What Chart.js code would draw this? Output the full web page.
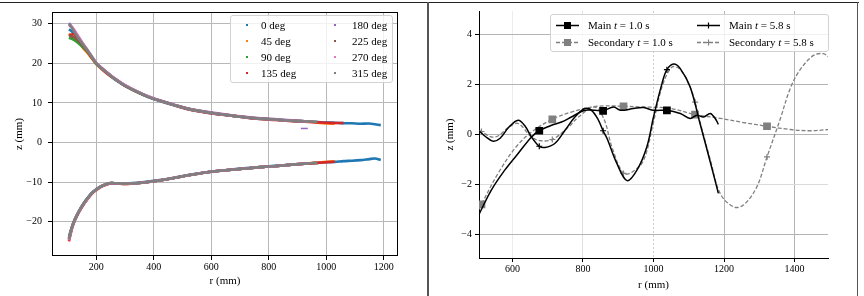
<!DOCTYPE html>
<html>
<head>
<meta charset="utf-8">
<script src="https://cdn.jsdelivr.net/npm/chart.js@4.4.0/dist/chart.umd.min.js"></script>
<style>
  body { margin: 0; background: #fff; width: 864px; height: 296px; position: relative; overflow: hidden;
         font-family: "Liberation Serif", "DejaVu Serif", serif; }
  canvas { position: absolute; top: 0; }
  #leftChart { left: 0; }
  #rightChart { left: 431px; }
  .rule { position: absolute; background: #222; }
  .leg { position: absolute; border: 1px solid #d2d2d2; border-radius: 3px; background: rgba(255,255,255,0.8);
         font-size: 11px; color: #000; }
  .leg span { position: absolute; white-space: nowrap; line-height: 14px; }
  .dot { width: 2px; height: 2px; }
</style>
</head>
<body>
<canvas id="leftChart" width="426" height="296"></canvas>
<canvas id="rightChart" width="426" height="296"></canvas>
<div class="rule" style="left:0;top:2px;width:859px;height:1px"></div>
<div class="rule" style="left:427px;top:2px;width:2px;height:294px;background:#555"></div>
<div class="rule" style="left:857px;top:2px;width:1px;height:294px;background:#555"></div>
<div id="legL" class="leg" style="left:230px;top:15px;width:161px;height:66px"></div>
<div id="legR" class="leg" style="left:550px;top:14px;width:277px;height:36px"></div>

<script>
// ---------- left panel: profile z(r) for eight azimuths ----------
const angleLabels = ['0 deg', '45 deg', '90 deg', '135 deg', '180 deg', '225 deg', '270 deg', '315 deg'];
const angleColors = ['#1f77b4', '#ff7f0e', '#2ca02c', '#d62728', '#9467bd', '#8c564b', '#e377c2', '#7f7f7f'];

const rGrid = [105, 115, 125, 140, 155, 170, 185, 200, 220, 245, 270, 300, 340, 380, 420, 470, 520,
               580, 640, 700, 760, 820, 880, 940, 970, 1000, 1030, 1060, 1090, 1120, 1150, 1170, 1190];

// upper branch, one row per angle (null = no data there)
const upperZ = [
  [28.6, 28.1, 27.4, 26.0, 24.6, 23.1, 21.5, 19.9, 18.6, 17.1, 15.7, 14.3, 12.8, 11.5, 10.5, 9.4, 8.4, 7.6, 7.0, 6.5, 6.0, 5.8, 5.5, 5.3, 5.2, 5.05, 5.0, 4.9, 4.85, 4.75, 4.8, 4.6, 4.4],
  [27.5, 27.0, 26.5, 25.5, 23.8, 22.6, 21.2, 19.8, 18.6, 17.1, 15.8, 14.4, 12.9, 11.6, 10.6, 9.5, 8.5, 7.7, 7.1, 6.6, 6.1, 5.8, 5.5, 5.3, 5.0, 4.8, 4.75, null, null, null, null, null, null],
  [26.5, 26.2, 25.8, 25.0, 24.0, 22.9, 21.4, 19.9, 18.7, 17.2, 15.8, 14.4, 12.9, 11.6, 10.6, 9.5, 8.5, 7.7, 7.1, 6.5, 6.1, 5.8, 5.5, 5.3, null, null, null, null, null, null, null, null, null],
  [27.0, 27.3, 27.4, 26.0, 24.5, 23.0, 21.5, 20.1, 18.5, 17.0, 15.9, 14.3, 12.9, 11.6, 10.6, 9.5, 8.4, 7.6, 7.0, 6.5, 6.0, 5.7, 5.4, 5.2, 5.1, 5.0, 4.95, 4.9, null, null, null, null, null],
  [30.2, 29.3, 28.0, 26.4, 24.8, 23.3, 21.7, 20.1, 18.8, 17.3, 15.9, 14.5, 13.0, 11.7, 10.7, 9.6, 8.6, 7.8, 7.2, 6.6, 6.2, 5.9, 5.6, 5.3, null, null, null, null, null, null, null, null, null],
  [27.2, 26.8, 26.5, 25.6, 24.4, 23.0, 21.5, 20.0, 18.7, 17.2, 15.8, 14.4, 12.9, 11.6, 10.6, 9.5, 8.5, 7.7, 7.1, 6.5, 6.1, 5.8, 5.5, 5.3, null, null, null, null, null, null, null, null, null],
  [29.6, 29.2, 28.3, 26.6, 24.9, 23.3, 21.7, 20.1, 18.8, 17.3, 15.9, 14.5, 13.0, 11.7, 10.6, 9.5, 8.5, 7.7, 7.1, 6.5, 6.1, 5.8, 5.5, 5.3, null, null, null, null, null, null, null, null, null],
  [29.9, 29.0, 27.8, 26.2, 24.7, 23.2, 21.6, 20.0, 18.7, 17.2, 15.8, 14.4, 12.9, 11.6, 10.6, 9.5, 8.5, 7.7, 7.1, 6.5, 6.1, 5.8, 5.5, 5.3, 5.25, null, null, null, null, null, null, null, null]
];

// lower branch
const lowerZ = [
  [-23.8, -21.4, -19.5, -17.3, -15.5, -14.0, -12.7, -11.8, -10.9, -10.3, -10.3, -10.4, -10.2, -9.9, -9.5, -8.9, -8.2, -7.6, -7.1, -6.6, -6.3, -5.9, -5.6, -5.3, -5.15, -5.0, -4.9, -4.7, -4.6, -4.45, -4.2, -4.05, -4.45],
  [-24.6, -21.8, -19.7, -17.5, -15.7, -14.2, -12.9, -12.0, -11.0, -10.4, -10.3, -10.5, -10.3, -10.0, -9.6, -9.0, -8.3, -7.6, -7.1, -6.7, -6.3, -6.0, -5.6, -5.3, -5.1, -4.9, -4.75, null, null, null, null, null, null],
  [-24.2, -21.5, -19.5, -17.4, -15.6, -14.1, -12.8, -11.9, -11.0, -10.3, -10.3, -10.4, -10.3, -10.0, -9.6, -9.0, -8.3, -7.6, -7.1, -6.7, -6.3, -6.0, -5.6, -5.3, null, null, null, null, null, null, null, null, null],
  [-25.0, -21.9, -19.8, -17.6, -15.8, -14.3, -12.9, -12.0, -11.1, -10.4, -10.4, -10.5, -10.3, -10.0, -9.6, -9.0, -8.3, -7.6, -7.1, -6.7, -6.3, -6.0, -5.6, -5.3, -5.15, -5.0, -4.85, null, null, null, null, null, null],
  [-24.4, -21.6, -19.6, -17.4, -15.6, -14.1, -12.8, -11.9, -11.0, -10.3, -10.3, -10.4, -10.3, -10.0, -9.6, -9.0, -8.3, -7.6, -7.1, -6.7, -6.3, -6.0, -5.6, -5.3, null, null, null, null, null, null, null, null, null],
  [-24.3, -21.5, -19.6, -17.4, -15.6, -14.1, -12.8, -11.9, -11.0, -10.3, -10.3, -10.4, -10.3, -10.0, -9.6, -9.0, -8.3, -7.6, -7.1, -6.7, -6.3, -6.0, -5.6, -5.3, null, null, null, null, null, null, null, null, null],
  [-24.7, -21.7, -19.6, -17.5, -15.7, -14.2, -12.8, -11.9, -11.0, -10.3, -10.3, -10.4, -10.3, -10.0, -9.6, -9.0, -8.3, -7.6, -7.1, -6.7, -6.3, -6.0, -5.6, -5.3, null, null, null, null, null, null, null, null, null],
  [-24.5, -21.6, -19.6, -17.4, -15.6, -14.1, -12.8, -11.9, -11.0, -10.3, -10.3, -10.4, -10.3, -10.0, -9.6, -9.0, -8.3, -7.6, -7.1, -6.7, -6.3, -6.0, -5.6, -5.3, -5.15, null, null, null, null, null, null, null, null]
];

// short stray piece of the 180 deg trace
const strayR = [912, 936];
const strayZ = [3.55, 3.55];

const xTicksLeft = [200, 400, 600, 800, 1000, 1200];
const yTicksLeft = [-20, -10, 0, 10, 20, 30];

// ---------- right panel: main vs secondary at two times ----------
const seriesNames = ['Main', 'Main', 'Secondary', 'Secondary'];
const seriesTimes = ['1.0', '5.8', '1.0', '5.8'];

const mainR10 = [505, 540, 578, 616, 654, 676, 711, 739, 767, 805, 834, 857, 887, 906, 943, 972, 1000, 1038, 1076, 1104, 1123, 1142, 1161, 1175, 1184];
const mainZ10 = [-3.2, -2.23, -1.43, -0.76, -0.1, 0.15, 0.37, 0.5, 0.7, 0.97, 0.97, 0.95, 1.1, 0.97, 1.04, 1.08, 0.97, 0.97, 0.84, 0.64, 0.77, 0.7, 0.84, 0.64, 0.41];

const mainR58 = [505, 525, 545, 565, 590, 616, 635, 654, 676, 692, 720, 749, 777, 805, 824, 843, 857, 868, 896, 925, 953, 981, 1000, 1024, 1038, 1057, 1076, 1104, 1132, 1161, 1184];
const mainZ58 = [0.15, -0.1, -0.27, -0.15, 0.3, 0.57, 0.35, -0.1, -0.47, -0.52, -0.36, 0.17, 0.7, 1.04, 0.97, 0.6, 0.15, -0.15, -1.16, -1.85, -1.43, -0.5, 0.7, 2.04, 2.6, 2.83, 2.64, 1.9, 0.44, -1.1, -2.36];

const secR10 = [505, 512, 559, 610, 654, 713, 767, 824, 862, 915, 981, 1047, 1118, 1189, 1255, 1322, 1388, 1445, 1497];
const secZ10 = [-3.0, -2.8, -1.56, -0.5, 0.1, 0.61, 0.9, 1.1, 1.15, 1.13, 1.1, 1.05, 0.8, 0.65, 0.48, 0.33, 0.2, 0.15, 0.2];

const secR58 = [505, 512, 540, 560, 590, 616, 654, 680, 713, 759, 787, 834, 860, 882, 915, 940, 972, 1000, 1024, 1052, 1076, 1104, 1118, 1132, 1161, 1189, 1227, 1255, 1293, 1322, 1359, 1388, 1416, 1454, 1482, 1497];
const secZ58 = [0.15, 0.12, -0.1, -0.05, 0.3, 0.44, -0.1, -0.25, -0.2, 0.3, 0.7, 1.1, 0.6, -0.5, -1.56, -1.5, -1.03, 0.5, 1.9, 2.7, 2.6, 1.9, 1.3, 0.5, -1.0, -2.36, -2.9, -2.83, -2.1, -0.9, 0.6, 1.85, 2.6, 3.17, 3.24, 3.1];

// r positions where the markers sit
const mainMarkR = [676, 857, 1038];
const secMarkR = [512, 713, 915, 1118, 1322];

const xTicksRight = [600, 800, 1000, 1200, 1400];
const yTicksRight = [-4, -2, 0, 2, 4];

// ---------- helpers ----------
const serif = '"Liberation Serif", "DejaVu Serif", serif';
const plain = v => (v < 0 ? '\u2212' + Math.abs(v) : String(v));
const toPoints = (rs, zs) => rs.map((r, k) => ({ x: r, y: zs[k] })).filter(p => p.y !== null);

const boxPlugin = {
  id: 'box',
  afterDraw(chart) {
    const a = chart.chartArea, ctx = chart.ctx;
    ctx.save();
    ctx.strokeStyle = '#000';
    ctx.lineWidth = 1;
    ctx.strokeRect(a.left + 0.5, a.top + 0.5, a.right - a.left - 1, a.bottom - a.top - 1);
    ctx.restore();
  }
};

// ---------- left chart ----------
const leftDatasets = [];
angleLabels.forEach((lab, i) => {
  [upperZ[i], lowerZ[i]].forEach(zs => {
    leftDatasets.push({
      label: lab,
      data: toPoints(rGrid, zs),
      borderColor: angleColors[i],
      backgroundColor: angleColors[i],
      showLine: true,
      borderWidth: 2.6,
      pointRadius: 0,
      tension: 0.25,
      order: angleLabels.length - i
    });
  });
});
leftDatasets.push({
  label: '180 deg', data: toPoints(strayR, strayZ), borderColor: angleColors[4],
  showLine: true, borderWidth: 1.5, pointRadius: 0, order: 0
});

new Chart(document.getElementById('leftChart'), {
  type: 'scatter',
  data: { datasets: leftDatasets },
  options: {
    responsive: false,
    animation: false,
    layout: { padding: { left: 0, right: 28, top: 9, bottom: 0 } },
    plugins: { legend: { display: false }, tooltip: { enabled: false } },
    scales: {
      x: {
        min: 46, max: 1250,
        afterBuildTicks: s => { s.ticks = xTicksLeft.map(v => ({ value: v })); },
        afterFit: s => { s.height = 40; },
        grid: { color: '#b8b8b8', lineWidth: 1, tickLength: 4, tickColor: '#000' },
        border: { display: false },
        ticks: { color: '#000', font: { family: serif, size: 10 }, padding: 1, maxRotation: 0, callback: plain },
        title: { display: true, text: 'r (mm)', color: '#000', font: { family: serif, size: 11 }, padding: { top: 0, bottom: 8 } }
      },
      y: {
        min: -28.7, max: 33,
        afterBuildTicks: s => { s.ticks = yTicksLeft.map(v => ({ value: v })); },
        afterFit: s => { s.width = 52; },
        grid: { color: '#b8b8b8', lineWidth: 1, tickLength: 4, tickColor: '#000' },
        border: { display: false },
        ticks: { color: '#000', font: { family: serif, size: 10 }, padding: 6, callback: plain },
        title: { display: true, text: 'z (mm)', color: '#000', font: { family: serif, size: 11 }, padding: { top: 13, bottom: 0 } }
      }
    }
  },
  plugins: [boxPlugin]
});

// ---------- right chart ----------
const markerAt = list => ctx => (ctx.raw && list.includes(ctx.raw.x) ? 1 : 0);
const rightSeries = [
  { r: mainR10, z: mainZ10, color: '#000', dash: [], style: 'rect', marks: mainMarkR, width: 1.5, size: 4.6 },
  { r: mainR58, z: mainZ58, color: '#000', dash: [], style: 'cross', marks: mainMarkR, width: 1.5, size: 3 },
  { r: secR10, z: secZ10, color: '#808080', dash: [4, 2], style: 'rect', marks: secMarkR, width: 1.3, size: 4.6 },
  { r: secR58, z: secZ58, color: '#808080', dash: [4, 2], style: 'cross', marks: secMarkR, width: 1.3, size: 3 }
];

const rightDatasets = rightSeries.map((s, i) => ({
  label: seriesNames[i] + ' t = ' + seriesTimes[i] + ' s',
  data: toPoints(s.r, s.z),
  borderColor: s.color,
  backgroundColor: s.color,
  borderDash: s.dash,
  borderWidth: s.width,
  showLine: true,
  tension: 0.35,
  pointStyle: s.style,
  pointRadius: ctx => markerAt(s.marks)(ctx) * s.size,
  pointBorderWidth: 1.2,
  pointBorderColor: s.color,
  pointBackgroundColor: s.color,
  order: i
}));

const vGridColor = { 600: '#ececec', 800: '#e0e0e0', 1000: '#cdcdcd', 1200: '#b4b4b4', 1400: '#b4b4b4' };
const hGridColor = { '-4': '#b4b4b4', '-2': '#dadada', 0: '#b4b4b4', 2: '#b4b4b4', 4: '#b4b4b4' };

new Chart(document.getElementById('rightChart'), {
  type: 'scatter',
  data: { datasets: rightDatasets },
  options: {
    responsive: false,
    animation: false,
    layout: { padding: { left: 0, right: 29, top: 11, bottom: 0 } },
    plugins: { legend: { display: false }, tooltip: { enabled: false } },
    scales: {
      x: {
        min: 505, max: 1495,
        afterBuildTicks: s => { s.ticks = xTicksRight.map(v => ({ value: v })); },
        afterFit: s => { s.height = 38; },
        grid: { color: c => (c.tick ? vGridColor[c.tick.value] : '#b4b4b4'), lineWidth: 1, tickLength: 4, tickColor: '#000' },
        border: { display: true, color: '#000', width: 1, dash: c => (c.tick && c.tick.value === 1000 ? [2, 2] : []) },
        ticks: { color: '#000', font: { family: serif, size: 10 }, padding: 1, maxRotation: 0, callback: plain },
        title: { display: true, text: 'r (mm)', color: '#000', font: { family: serif, size: 11 }, padding: { top: 0, bottom: 4 } }
      },
      y: {
        min: -4.95, max: 4.95,
        afterBuildTicks: s => { s.ticks = yTicksRight.map(v => ({ value: v })); },
        afterFit: s => { s.width = 48; },
        grid: { color: c => (c.tick ? hGridColor[c.tick.value] : '#b4b4b4'), lineWidth: 1, tickLength: 4, tickColor: '#000' },
        border: { display: true, color: '#000', width: 1 },
        ticks: { color: '#000', font: { family: serif, size: 10 }, padding: 3, callback: plain },
        title: { display: true, text: 'z (mm)', color: '#000', font: { family: serif, size: 11 }, padding: { top: 13, bottom: 0 } }
      }
    }
  }
});

// ---------- legends ----------
const legL = document.getElementById('legL');
angleLabels.forEach((lab, i) => {
  const col = Math.floor(i / 4), row = i % 4;
  const top = 9 + 16 * row;
  const dot = document.createElement('span');
  dot.className = 'dot';
  dot.style.cssText = `left:${col ? 103 : 15}px;top:${top - 1}px;background:${angleColors[i]}`;
  const txt = document.createElement('span');
  txt.textContent = lab;
  txt.style.cssText = `left:${col ? 121 : 30}px;top:${top - 7}px`;
  legL.appendChild(dot);
  legL.appendChild(txt);
});

const legR = document.getElementById('legR');
rightSeries.forEach((s, i) => {
  const col = i % 2, row = Math.floor(i / 2);
  const top = 10 + 17 * row;
  const x0 = col ? 146 : 5;
  const mark = s.style === 'rect'
    ? `<rect x="8" y="2" width="7" height="7" fill="${s.color}"/>`
    : `<path d="M8.5 5.5h6M11.5 2.5v6" stroke="${s.color}" stroke-width="1.2"/>`;
  const sample = document.createElement('span');
  sample.style.cssText = `left:${x0}px;top:${top - 5}px;line-height:0`;
  sample.innerHTML = `<svg width="24" height="11"><line x1="0" y1="5.5" x2="23" y2="5.5" stroke="${s.color}" stroke-width="${s.width}" stroke-dasharray="${s.dash.join(' ')}"/>${mark}</svg>`;
  const txt = document.createElement('span');
  txt.innerHTML = `${seriesNames[i]} <i>t</i> = ${seriesTimes[i]} s`;
  txt.style.cssText = `left:${x0 + 32}px;top:${top - 7}px`;
  legR.appendChild(sample);
  legR.appendChild(txt);
});
</script>
</body>
</html>
